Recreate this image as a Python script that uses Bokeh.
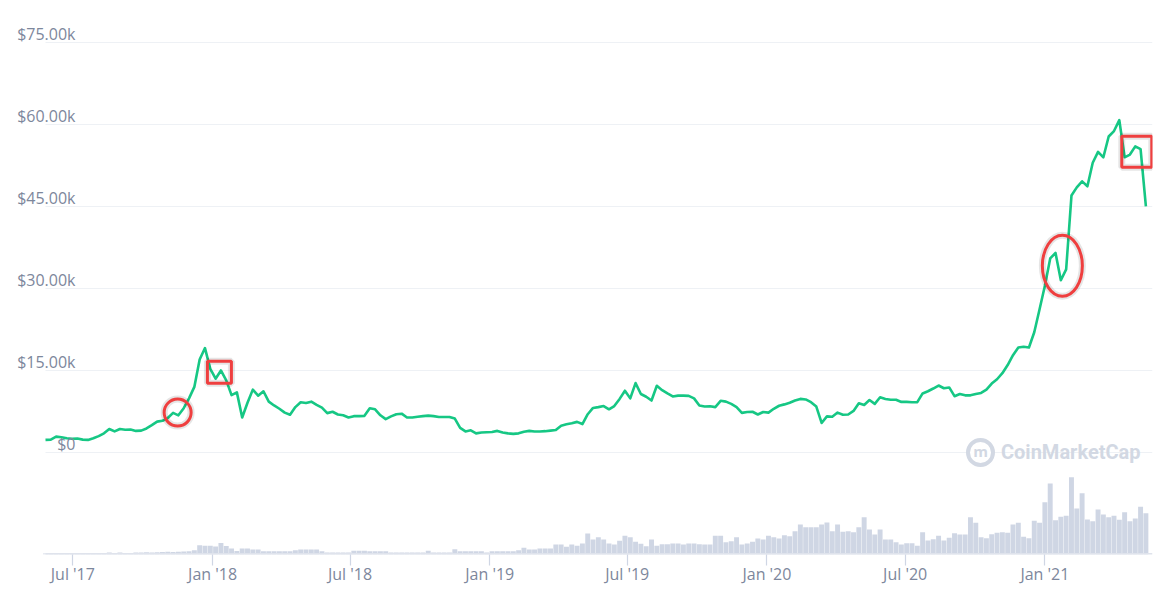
import pandas as pd
from bokeh.plotting import figure
from bokeh.models import Range1d, FixedTicker, LabelSet, Label, ColumnDataSource
from bokeh.embed import file_html
from bokeh.resources import INLINE
from bokeh.core.properties import value

# ---------------- data ----------------
start_date = "2017-05-26"          # weekly points

# price in $k, weekly
price_2017 = [2.3, 2.35, 2.9, 2.8, 2.6, 2.5, 2.55, 2.35, 2.3, 2.6, 3.0, 3.5, 4.3, 3.85, 4.3, 4.15,
              4.2, 3.95, 4.0, 4.4, 5.0, 5.65, 5.8, 6.3, 7.25, 6.8, 8.1, 9.9, 12.0, 17.0, 19.1, 15.3,
              13.5, 15.0]
price_2018 = [13.2, 10.5, 11.0, 6.4, 9.1, 11.5, 10.4, 11.2, 9.3, 8.6, 8.0, 7.3, 6.9, 8.3, 9.2, 9.05,
              9.3, 8.7, 8.2, 7.2, 7.45, 6.95, 6.8, 6.4, 6.65, 6.65, 6.7, 8.1, 7.9, 6.8, 6.1, 6.6,
              7.0, 7.1, 6.4, 6.4]
price_2019a = [6.55, 6.65, 6.75, 6.65, 6.5, 6.5, 6.5, 6.2, 4.5, 3.85, 4.05, 3.5, 3.65, 3.7, 3.75,
               3.95, 3.65, 3.5, 3.4, 3.5, 3.8, 3.95, 3.85, 3.85, 3.9, 4.0, 4.1, 4.9, 5.15, 5.35,
               5.6, 5.2, 7.0, 8.15, 8.3]
price_2019b = [8.5, 7.9, 8.5, 9.8, 11.3, 9.9, 12.7, 10.7, 10.2, 9.5, 12.2, 11.4, 10.8, 10.25, 10.4,
               10.4, 10.35, 9.9, 8.6, 8.4, 8.45, 8.3, 9.45, 9.3, 8.9, 8.3, 7.25, 7.4, 7.45, 6.95,
               7.4, 7.3, 8.0, 8.55, 8.8]
price_2020 = [9.1, 9.5, 9.8, 9.7, 9.2, 8.4, 5.4, 6.6, 6.55, 7.3, 6.9, 6.95, 7.6, 9.0, 8.7, 9.6,
              8.9, 10.1, 9.8, 9.65, 9.65, 9.25, 9.25, 9.2, 9.2, 10.8, 11.2, 11.7, 12.25, 11.75,
              11.9, 10.3, 10.7, 10.45]
price_2021 = [10.45, 10.7, 10.9, 11.5, 12.6, 13.4, 14.5, 16.0, 17.8, 19.2, 19.35, 19.2, 22.0, 26.2,
              30.5, 35.5, 36.5, 31.5, 33.5, 47.0, 48.5, 49.6, 48.7, 53.0, 55.0, 54.0, 57.8, 58.8,
              60.8, 54.0, 54.5, 56.0, 55.5, 45.0]

# traded volume, relative units, weekly
vol_2017 = [1, 1, 1, 1, 1, 1, 1, 1, 1, 1, 1, 1, 2, 1.5, 2, 1.5, 1.5, 2, 2, 2.3, 2, 2.3, 2.5,
            2.7, 2.5, 2.7, 3, 3.3, 4.3, 9.3, 8.7, 8.7, 8, 11.5]
vol_2018 = [8.5, 6, 3.5, 6, 6, 5, 5, 3.3, 3.3, 3.3, 3.3, 3.3, 3.3, 4.3, 5, 5, 5, 5, 3.3,
            2, 2, 2, 2, 2, 3.7, 3.7, 3.7, 3.3, 3.3, 3.3, 3.3, 2, 2, 2, 2, 2]
vol_2019a = [2, 2, 3.7, 2, 2, 2, 2, 5.3, 3.3, 3.3, 3.3, 3.3, 3.3, 2, 3.3, 3.3, 3.3, 3.3, 3.3,
             4.3, 6.7, 5, 5, 6, 6, 6, 10, 10, 7.7, 10, 8.7, 11, 21, 15, 17.3]
vol_2019b = [15, 11, 10, 13.7, 18.7, 17.3, 12.7, 10.7, 8.3, 15, 8.7, 10.3, 10.3, 11, 11, 10, 11,
             11, 10.3, 10, 10, 18.7, 18.7, 12.3, 13.3, 17.3, 10, 11, 12.7, 16, 15, 18.7, 17.3,
             16, 19.3]
vol_2020 = [18.3, 23.3, 30, 27.3, 27.3, 27.3, 30, 32, 23.3, 30, 22.7, 23.3, 22.3, 27.3, 37.3, 25,
            20, 25, 15, 15, 12.3, 10, 11.3, 11.3, 8.7, 22.3, 14, 15.3, 18.7, 14, 16.7, 21.3, 20, 20]
vol_2021 = [37.3, 31.7, 17.3, 16.3, 20.3, 21.7, 22.3, 21.7, 30, 31.7, 17.7, 16.3, 33.7, 31.7,
            52.3, 71, 34.3, 37.7, 38.7, 77.3, 46, 61.3, 35, 33.3, 45, 40, 37.3, 38.7, 34.7, 42.3,
            33.3, 36, 47.7, 41.3]

x_tick_dates = ["2017-07-01", "2018-01-01", "2018-07-01", "2019-01-01",
                "2019-07-01", "2020-01-01", "2020-07-01", "2021-01-01"]
x_tick_labels = ["Jul '17", "Jan '18", "Jul '18", "Jan '19",
                 "Jul '19", "Jan '20", "Jul '20", "Jan '21"]
y_ticks = [0, 15000, 30000, 45000, 60000, 75000]
y_tick_labels = ["$0", "$15.00k", "$30.00k", "$45.00k", "$60.00k", "$75.00k"]

# highlighted spots (date, price)
circle_marks = (["2017-11-16"], [7300])
box_marks = (["2018-01-10", "2021-05-02"], [14700, 55000])
ellipse_marks = (["2021-01-24"], [34150])

# ---------------- build ----------------
price = [v * 1000 for v in price_2017 + price_2018 + price_2019a + price_2019b + price_2020 + price_2021]
volume = vol_2017 + vol_2018 + vol_2019a + vol_2019b + vol_2020 + vol_2021
n = min(len(price), len(volume))
dates = pd.date_range(start_date, periods=n, freq="7D")
src = ColumnDataSource(dict(date=dates, price=price[:n], vol=volume[:n]))

DAY_MS = 86400000
PX_PER_DAY = 0.7594
data_start = dates[0]
x_end = dates[-1] + pd.Timedelta(days=8.7)
x_start = data_start - pd.Timedelta(days=45 / PX_PER_DAY)

GREEN = "#16c784"
RED = "#ef3f3f"
LABEL_COLOR = "#7d879c"
GRID = "#eef1f5"
FONT = "Open Sans"
WM = "#d2d8e3"

p = figure(width=1170, height=598, x_axis_type="datetime", y_axis_location=None,
           x_range=Range1d(x_start, x_end), y_range=Range1d(-18660, 82680),
           output_backend="svg", toolbar_location=None,
           min_border_left=0, min_border_right=18, min_border_top=0, min_border_bottom=44,
           outline_line_color=None, background_fill_color="white", border_fill_color="white")
p.extra_y_ranges = {"vol": Range1d(0, 554)}

for g in p.grid:
    g.visible = False

# horizontal grid lines, only across the data span
p.segment(x0=[data_start] * len(y_ticks), x1=[x_end] * len(y_ticks), y0=y_ticks, y1=y_ticks,
          line_color=GRID, line_width=1.2)

# x axis
tick_ms = [int(pd.Timestamp(d).value // 10**6) for d in x_tick_dates]
ax = p.xaxis[0]
ax.ticker = FixedTicker(ticks=tick_ms)
ax.major_label_overrides = {t: lab for t, lab in zip(tick_ms, x_tick_labels)}
ax.axis_line_color = None
ax.major_tick_line_color = "#cfd6e4"
ax.major_tick_line_width = 1.2
ax.major_tick_in = 0
ax.major_tick_out = 11
ax.minor_tick_line_color = None
ax.major_label_text_font = FONT
ax.major_label_text_font_size = "16px"
ax.major_label_text_color = LABEL_COLOR
ax.major_label_standoff = -3

# volume bars + baseline
p.vbar(x="date", top="vol", bottom=0, width=6.5 * DAY_MS, source=src, y_range_name="vol",
       fill_color="#cfd6e4", line_color=None)
p.segment(x0=[data_start], x1=[x_end], y0=[0], y1=[0], y_range_name="vol",
          line_color="#dfe3ec", line_width=3)

# watermark
logo_x = x_end - pd.Timedelta(days=(1152 - 980) / PX_PER_DAY)
p.scatter(x=[logo_x], y=[0], marker="circle", size=25,
          fill_color="white", line_color=WM, line_width=4)
p.add_layout(Label(x=logo_x, y=0, text="m", text_align="center",
                   text_baseline="middle", text_font=FONT, text_font_style="bold",
                   text_font_size="15px", text_color=WM, y_offset=1))
p.add_layout(Label(x=x_end, y=0, x_offset=-12, text="CoinMarketCap", text_align="right",
                   text_baseline="middle", text_font="Roboto", text_font_style="bold",
                   text_font_size="20px", text_color=WM))

# price line
p.line(x="date", y="price", source=src, line_color=GREEN, line_width=2.6, line_join="round")

# y labels
ysrc = ColumnDataSource(dict(x=[data_start] * len(y_ticks), y=y_ticks, text=y_tick_labels))
p.add_layout(LabelSet(x="x", y="y", text="text", source=ysrc, x_offset=30, y_offset=2,
                      text_align="right", text_baseline="alphabetic", text_font=value(FONT),
                      text_font_size="16px", text_color=LABEL_COLOR))

# red highlight marks (with soft shadow)
cd = [pd.Timestamp(d) for d in circle_marks[0]]
bd = [pd.Timestamp(d) for d in box_marks[0]]
ed = [pd.Timestamp(d) for d in ellipse_marks[0]]
for lc, lw, la in (("#000000", 7, 0.10), (RED, 3, 1.0)):
    p.scatter(x=cd, y=circle_marks[1], marker="circle", size=27, fill_color=None,
              line_color=lc, line_width=lw, line_alpha=la)
    p.rect(x=bd[:1], y=box_marks[1][:1], width=24, height=22, width_units="screen",
           height_units="screen", fill_color=None, line_color=lc, line_width=lw, line_alpha=la)
    p.rect(x=bd[1:], y=box_marks[1][1:], width=30, height=31, width_units="screen",
           height_units="screen", fill_color=None, line_color=lc, line_width=lw, line_alpha=la)
    p.ellipse(x=ed, y=ellipse_marks[1], width=40, height=61, width_units="screen",
              height_units="screen", fill_color=None, line_color=lc, line_width=lw, line_alpha=la)

open("out.html", "w").write(file_html(p, INLINE, "Bitcoin price"))
